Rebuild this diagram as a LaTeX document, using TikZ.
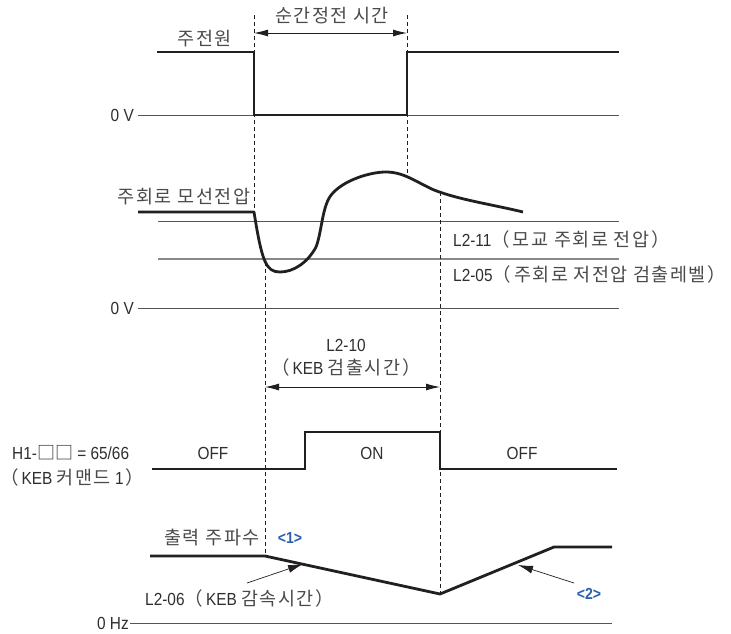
\documentclass[tikz,border=0pt]{standalone}
\usepackage{fontspec}
\setmainfont[FakeStretch=0.88]{Liberation Sans}
\newfontfamily\kr[LetterSpace=8]{Noto Sans CJK KR}
\newfontfamily\krplain{Noto Sans CJK KR}
\definecolor{krtxt}{HTML}{4A4A4A}
\newcommand\K[1]{{\kr\fontsize{18.5}{20}\selectfont\color{krtxt}#1}}
\newcommand\LP{{\krplain\fontsize{18.5}{20}\selectfont\color{krtxt}（}\hspace{3pt}}
\newcommand\RP{\hspace{2pt}{\krplain\fontsize{18.5}{20}\selectfont\color{krtxt}）}}
\usetikzlibrary{arrows.meta}
\definecolor{wavec}{HTML}{231F20}
\definecolor{txt}{HTML}{2E2E2E}
\definecolor{gline}{HTML}{555555}
\definecolor{gline2}{HTML}{888888}
\definecolor{bluec}{HTML}{2B5FAD}
\begin{document}
\begin{tikzpicture}[x=1pt,y=-1pt,
  wave/.style={line width=2.8pt, draw=wavec, line join=miter},
  thinline/.style={line width=1pt, draw=gline},
  thinline2/.style={line width=1.2pt, draw=gline2},
  guide/.style={line width=0.8pt, draw=wavec, dash pattern=on 4pt off 3pt},
  lbl/.style={font=\fontsize{17.5}{20}\selectfont, text=txt, inner sep=0pt},
  blbl/.style={font=\fontsize{16}{18}\selectfont\bfseries, text=bluec, inner sep=0pt},
  dimarrow/.style={{Latex[length=14pt,width=7pt]}-{Latex[length=14pt,width=7pt]}, line width=0.9pt, draw=wavec},
  leader/.style={-{Latex[length=15pt,width=8pt]}, line width=0.7pt, draw=wavec}]
\useasboundingbox (0,0) rectangle (731,633);

% ---------- main power ----------
\coordinate (mpA) at (157,52);
\coordinate (mpB) at (254,52);
\coordinate (mpC) at (254,115);
\coordinate (mpD) at (407,115);
\coordinate (mpE) at (407,52);
\coordinate (mpF) at (619,52);
\coordinate (zvA1) at (138,115);
\coordinate (zvA2) at (619,115);
\coordinate (gdA1) at (254,15);
\coordinate (gdA2) at (254,212);
\coordinate (gdB1) at (407,15);
\coordinate (gdB2) at (407,174);
\coordinate (arA1) at (254,33);
\coordinate (arA2) at (407,33);

\draw[guide] (gdA1) -- (gdA2);
\draw[guide] (gdB1) -- (gdB2);
\draw[thinline] (zvA1) -- (zvA2);
\draw[wave] (mpA) -- (mpB) -- (mpC) -- (mpD) -- (mpE) -- (mpF);
\draw[dimarrow] (arA1) -- (arA2);
\node[lbl] (tPower) at (205,39) {\K{주전원}};
\node[lbl] (tOutage) at (332,16) {\K{순간정전 시간}};
\node[lbl, anchor=east] (tZeroA) at (134,115) {0 V};

% ---------- DC bus voltage ----------
\coordinate (l11A) at (158,221);
\coordinate (l11B) at (619,221);
\coordinate (l05A) at (158,259);
\coordinate (l05B) at (619,259);
\coordinate (zvB1) at (138,308);
\coordinate (zvB2) at (619,308);
\coordinate (busA) at (138,212);
\coordinate (busB) at (254,212);
\coordinate (busEnd) at (523,212);

\draw[thinline] (l11A) -- (l11B);
\draw[thinline2] (l05A) -- (l05B);
\draw[thinline] (zvB1) -- (zvB2);
\draw[wave, line join=round] (busA) -- (busB)
  .. controls (262,262) and (266,272) .. (280,272)
  .. controls (294,272) and (308,262) .. (316,247)
  .. controls (322,232) and (322,205) .. (332,194)
  .. controls (344,180) and (370,172) .. (386,172)
  .. controls (404,172) and (416,182) .. (434,190)
  .. controls (460,200) and (490,204) .. (busEnd);
\node[lbl] (tBus) at (184,197) {\K{주회로 모선전압}};
\node[lbl, anchor=west] (tL211) at (453,239) {L2-11\LP\K{모교 주회로 전압}\RP};
\node[lbl, anchor=west] (tL205) at (453,274) {L2-05\LP\K{주회로 저전압 검출레벨}\RP};
\node[lbl, anchor=east] (tZeroB) at (134,308) {0 V};

% ---------- guides through lower sections ----------
\coordinate (gdC1) at (265,262);
\coordinate (gdC2) at (265,556);
\coordinate (gdD1) at (440,192);
\coordinate (gdD2) at (440,594);
\draw[guide] (gdC1) -- (gdC2);
\draw[guide] (gdD1) -- (gdD2);

% ---------- KEB detection time ----------
\coordinate (arB1) at (265,387);
\coordinate (arB2) at (440,387);
\draw[dimarrow] (arB1) -- (arB2);
\node[lbl] (tL210) at (346,345) {L2-10};
\node[lbl] (tKEBdet) at (346,367) {\LP KEB\ \K{검출시간}\RP};

% ---------- KEB command ----------
\coordinate (kA) at (152,469);
\coordinate (kB) at (305,469);
\coordinate (kC) at (305,432);
\coordinate (kD) at (440,432);
\coordinate (kE) at (440,469);
\coordinate (kF) at (617,469);
\draw[wave] (kA) -- (kB) -- (kC) -- (kD) -- (kE) -- (kF);
\node[lbl, anchor=west] (tH1) at (12,453) {H1-{\krplain\fontsize{18}{20}\selectfont □□} = 65/66};
\node[lbl, anchor=west] (tKEBcmd) at (0,477) {\LP KEB\ \K{커맨드}\ 1\RP};
\node[lbl] (tOff1) at (213,453) {OFF};
\node[lbl] (tOn) at (372,453) {ON};
\node[lbl] (tOff2) at (522,453) {OFF};

% ---------- output frequency ----------
\coordinate (fA) at (150,556);
\coordinate (fB) at (265,556);
\coordinate (fC) at (440,594);
\coordinate (fD) at (554,547);
\coordinate (fE) at (612,547);
\coordinate (zhA) at (130,623);
\coordinate (zhB) at (612,623);
\draw[thinline] (zhA) -- (zhB);
\draw[wave] (fA) -- (fB) -- (fC) -- (fD) -- (fE);
\node[lbl] (tFreq) at (212,538) {\K{출력 주파수}};
\node[blbl] (tN1) at (290,538) {<1>};
\node[lbl, anchor=west] (tL206) at (145,598) {L2-06\LP KEB\ \K{감속시간}\RP};
\node[blbl] (tN2) at (589,594) {<2>};
\node[lbl, anchor=east] (tZeroHz) at (129,623) {0 Hz};
\coordinate (ld1A) at (247,583);
\coordinate (ld1B) at (303,564);
\coordinate (ld2A) at (574,583);
\coordinate (ld2B) at (518,565);
\draw[leader] (ld1A) -- (ld1B);
\draw[leader] (ld2A) -- (ld2B);
\end{tikzpicture}
\end{document}
